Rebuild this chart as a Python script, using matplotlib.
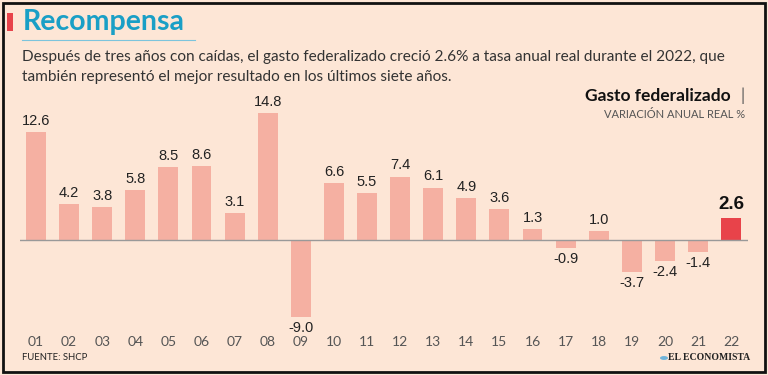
import matplotlib.pyplot as plt
from matplotlib.patches import Rectangle, Circle
from matplotlib.lines import Line2D

# datos
years = ['01', '02', '03', '04', '05', '06', '07', '08', '09', '10', '11',
         '12', '13', '14', '15', '16', '17', '18', '19', '20', '21', '22']
values = [12.6, 4.2, 3.8, 5.8, 8.5, 8.6, 3.1, 14.8, -9.0, 6.6, 5.5,
          7.4, 6.1, 4.9, 3.6, 1.3, -0.9, 1.0, -3.7, -2.4, -1.4, 2.6]

bg = '#fde6d6'
bar_color = '#f5b0a2'
hi_color = '#e8434a'
narrow = ['Liberation Sans', 'DejaVu Sans']

plt.rcParams['font.family'] = ['Lato', 'DejaVu Sans']

fig = plt.figure(figsize=(7.68, 3.75), dpi=100, facecolor=bg)

W, H = 768, 375
def fx(px):
    return px / W
def fy(py):
    return 1 - py / H

# marco
fig.patches.append(Rectangle((fx(3), fy(372)), fx(762), 369 / H, transform=fig.transFigure,
                             fill=False, edgecolor='#111111', linewidth=2))

# título
fig.patches.append(Rectangle((fx(7), fy(31)), fx(6), 18 / H, transform=fig.transFigure,
                             facecolor='#e8434a', edgecolor='none'))
fig.text(fx(23), fy(22), 'Recompensa', color='#1a9fc6', fontsize=20.5, fontweight='bold',
         va='center', ha='left')
fig.lines.append(Line2D([fx(22), fx(195)], [fy(40), fy(40)], transform=fig.transFigure,
                        color='#7cc4dc', linewidth=0.8))
fig.text(fx(22), fy(57), 'Después de tres años con caídas, el gasto federalizado creció 2.6% a tasa anual real durante el 2022, que',
         color='#333333', fontsize=11.1, va='center', ha='left')
fig.text(fx(22), fy(77), 'también representó el mejor resultado en los últimos siete años.',
         color='#333333', fontsize=11.1, va='center', ha='left')

fig.text(fx(731), fy(96), 'Gasto federalizado', color='#111111', fontsize=12.5, fontweight='bold',
         va='center', ha='right')
fig.text(fx(745), fy(96), '|', color='#555555', fontsize=12, va='center', ha='right')
fig.text(fx(745), fy(115), 'VARIACIÓN ANUAL REAL %', color='#555555', fontsize=8,
         va='center', ha='right')

fig.text(fx(22), fy(358), 'FUENTE: SHCP', color='#222222', fontsize=6.8, va='center', ha='left')
fig.text(fx(750), fy(358), 'EL ECONOMISTA', color='#222222', fontsize=7, fontweight='bold',
         family=['Liberation Serif', 'DejaVu Serif'], va='center', ha='right')
fig.patches.append(Circle((fx(664), fy(358)), 4 / W, transform=fig.transFigure,
                          facecolor='#6fb3d9', edgecolor='none'))

# gráfica
ax = fig.add_axes([fx(20), fy(330), fx(728), 230 / H])
ax.set_facecolor('none')
x = list(range(len(years)))
colors = [bar_color] * (len(years) - 1) + [hi_color]
ax.bar(x, values, width=0.6, color=colors, zorder=2)
ax.axhline(0, color='#999999', linewidth=1, zorder=3)

for i, v in enumerate(values):
    last = i == len(values) - 1
    off = 0.5 if v >= 0 else -0.5
    ax.text(i, v + off, f'{v:.1f}', ha='center', va='bottom' if v >= 0 else 'top',
            fontsize=13.5 if last else 10.5, fontweight='bold' if last else 'normal',
            color='#111111' if last else '#222222', family=narrow)

ax.set_xlim(-0.483, 21.51)
ax.set_ylim(-10.5, 16.34)
ax.set_xticks(x)
ax.set_xticklabels(years, color='#555555', fontsize=10)
ax.tick_params(axis='x', length=0, pad=4)
ax.set_yticks([])
for s in ax.spines.values():
    s.set_visible(False)

fig.savefig('out.png', dpi=100, facecolor=bg)
